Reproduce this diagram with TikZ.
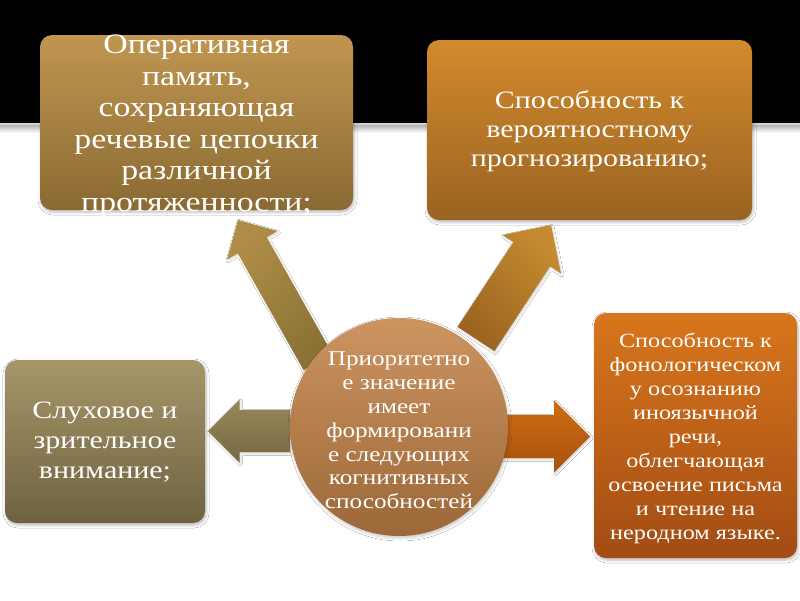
\documentclass[tikz,border=0pt]{standalone}
\usepackage{fontspec}
\setmainfont{Liberation Serif}[FakeStretch=1.2]
\usetikzlibrary{calc,shadows.blur}
\definecolor{tlTop}{HTML}{C09650}
\definecolor{tlBot}{HTML}{8A6A33}
\definecolor{trTop}{HTML}{D28A2C}
\definecolor{trBot}{HTML}{9A6322}
\definecolor{lTop}{HTML}{A6966A}
\definecolor{lBot}{HTML}{6F6240}
\definecolor{rTop}{HTML}{D8761C}
\definecolor{rBot}{HTML}{A24C14}
\definecolor{cTop}{HTML}{CC9461}
\definecolor{cBot}{HTML}{9C6838}
\definecolor{ulLight}{HTML}{B08D47}
\definecolor{ulDark}{HTML}{8A7234}
\definecolor{urLight}{HTML}{C48B30}
\definecolor{urDark}{HTML}{9C6420}
\definecolor{lLight}{HTML}{978859}
\definecolor{lDark}{HTML}{776843}
\definecolor{rLight}{HTML}{D06C12}
\definecolor{rDark}{HTML}{A6520F}
\newcommand{\blockarrow}[5]{%
  \coordinate (#1-#2-s) at ($(#2)!#4!(#1)$);
  \path[#5] ($(#1)!#3!90:(#2)$) -- ($(#1-#2-s)!#3!90:(#2)$) -- ($(#1-#2-s)!#4!90:(#2)$)
    -- (#2) -- ($(#1-#2-s)!#4!-90:(#2)$) -- ($(#1-#2-s)!#3!-90:(#2)$) -- ($(#1)!#3!-90:(#2)$) -- cycle;
}
\begin{document}
\begin{tikzpicture}[x=1pt,y=-1pt,
  boxshape/.style={rectangle, rounded corners=12pt, inner sep=0pt,
    blur shadow={shadow xshift=1pt, shadow yshift=-2pt, shadow blur radius=3pt, shadow opacity=28}},
  txt/.style={text=white, align=center, inner sep=0pt},
  arrowshape/.style={blur shadow={shadow xshift=1pt, shadow yshift=-1.5pt, shadow blur radius=2pt, shadow opacity=18}}]
\useasboundingbox (0,0) rectangle (800,600);
\fill[white] (0,0) rectangle (800,600);
\fill[black] (0,0) rectangle (800,123);
\fill[gray!35] (0,123) rectangle (800,125.5);
\shade[top color=gray!55, bottom color=white] (0,125.5) rectangle (800,133);

% boxes
\node[boxshape, minimum width=313pt, minimum height=175pt, top color=tlTop, bottom color=tlBot] (tl) at (196.5,122.5) {};
\node[boxshape, minimum width=325pt, minimum height=180pt, top color=trTop, bottom color=trBot] (tr) at (589.5,130) {};
\node[boxshape, minimum width=200pt, minimum height=163pt, top color=lTop, bottom color=lBot] (lb) at (105,441.5) {};
\node[boxshape, minimum width=203pt, minimum height=245pt, top color=rTop, bottom color=rBot] (rb) at (695.5,435.5) {};

% arrows
\coordinate (ulTail) at (318,362);
\coordinate (ulTip) at (238,220);
\coordinate (urTail) at (476,339);
\coordinate (urTip) at (551,225);
\coordinate (lTail) at (290,431);
\coordinate (lTip) at (208,431);
\coordinate (rTail) at (490,436.5);
\coordinate (rTip) at (590,436.5);
\blockarrow{ulTail}{ulTip}{16.5pt}{29pt}{arrowshape, top color=ulLight, bottom color=ulDark, shading angle=45}
\blockarrow{urTail}{urTip}{22pt}{35pt}{arrowshape, top color=urLight, bottom color=urDark, shading angle=-45}
\blockarrow{lTail}{lTip}{21pt}{31.5pt}{arrowshape, top color=lLight, bottom color=lDark}
\blockarrow{rTail}{rTip}{21.5pt}{36pt}{arrowshape, top color=rLight, bottom color=rDark}

% circle
\node[circle, minimum size=218pt, inner sep=0pt, top color=cTop, bottom color=cBot,
  blur shadow={shadow xshift=1pt, shadow yshift=-2pt, shadow blur radius=3pt, shadow opacity=22}] (c) at (399,427) {};

% texts
\node[txt, font=\fontsize{28.2}{31.5}\selectfont] (tltext) at (196.5,126) {Оперативная\\память,\\сохраняющая\\речевые цепочки\\различной\\протяженности;};
\node[txt, font=\fontsize{25}{29}\selectfont] (trtext) at (589.5,131) {Способность к\\вероятностному\\прогнозированию;};
\node[txt, font=\fontsize{25}{30}\selectfont] (lbtext) at (105,442) {Слуховое и\\зрительное\\внимание;};
\node[txt, font=\fontsize{20.2}{24.1}\selectfont] (rbtext) at (695.5,438.5) {Способность к\\фонологическом\\у осознанию\\иноязычной\\речи,\\облегчающая\\освоение письма\\и чтение на\\неродном языке.};
\node[txt, font=\fontsize{21}{23.8}\selectfont] (ctext) at (399,430.5) {Приоритетно\\е значение\\имеет\\формировани\\е следующих\\когнитивных\\способностей};
\end{tikzpicture}
\end{document}
